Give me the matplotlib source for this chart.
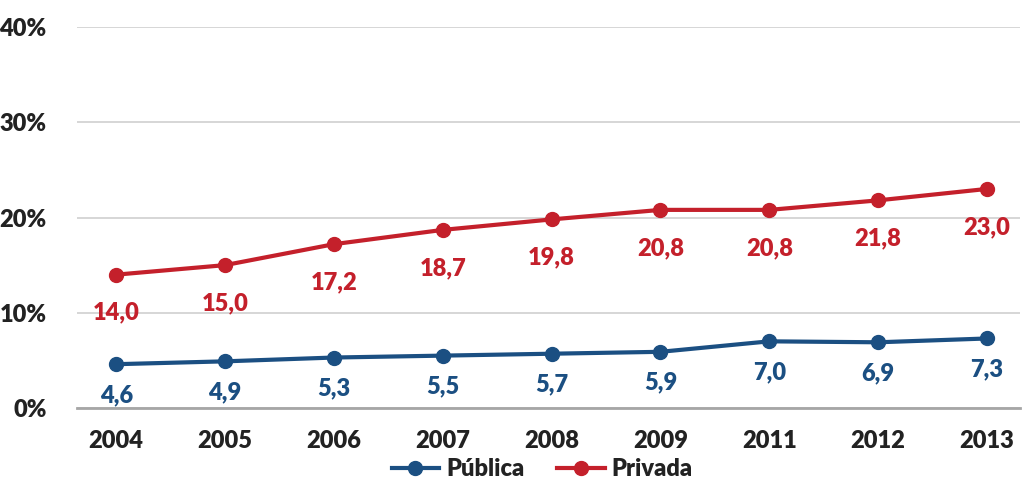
import matplotlib.pyplot as plt

anos = ["2004", "2005", "2006", "2007", "2008", "2009", "2011", "2012", "2013"]
publica = [4.6, 4.9, 5.3, 5.5, 5.7, 5.9, 7.0, 6.9, 7.3]
privada = [14.0, 15.0, 17.2, 18.7, 19.8, 20.8, 20.8, 21.8, 23.0]

azul = "#1b4f82"
vermelho = "#c4202b"
peso = 'heavy'

plt.rcParams['font.family'] = ['Lato', 'DejaVu Sans']

fig = plt.figure(figsize=(10.31, 4.82), dpi=100)
ax = fig.add_axes([0.0747, 0.1535, 0.9143, 0.7905])

x = list(range(len(anos)))
ax.plot(x, publica, color=azul, lw=3, marker='o', ms=10, label="Pública", zorder=3)
ax.plot(x, privada, color=vermelho, lw=3, marker='o', ms=10, label="Privada", zorder=3)

for i in x:
    ax.annotate(f"{publica[i]:.1f}".replace(".", ","), (i, publica[i]), xytext=(0, -31),
                textcoords='offset pixels', ha='center', va='center', color=azul,
                fontsize=17, fontweight=peso)
    ax.annotate(f"{privada[i]:.1f}".replace(".", ","), (i, privada[i]), xytext=(0, -38),
                textcoords='offset pixels', ha='center', va='center', color=vermelho,
                fontsize=17, fontweight=peso)

ax.set_ylim(0, 40)
ax.set_yticks([0, 10, 20, 30, 40])
ax.set_yticklabels(["0%", "10%", "20%", "30%", "40%"])
ax.set_xlim(-0.36, 8.3)
ax.set_xticks(x)
ax.set_xticklabels(anos)
ax.tick_params(axis='both', length=0, labelsize=17, colors="#222222")
ax.tick_params(axis='y', pad=22)
ax.tick_params(axis='x', pad=16)
for lab in ax.get_xticklabels() + ax.get_yticklabels():
    lab.set_fontweight(peso)

ax.grid(axis='y', color="#d0d0d0", lw=1.2)
ax.set_axisbelow(True)
for s in ["top", "right", "left"]:
    ax.spines[s].set_visible(False)
ax.spines["bottom"].set_color("#a6a6a6")
ax.spines["bottom"].set_linewidth(2)

leg = fig.legend(loc='lower center', bbox_to_anchor=(0.526, -0.025), ncol=2, frameon=False,
                 fontsize=17, handlelength=2.0, columnspacing=1.4, handletextpad=0.3,
                 borderpad=0.1)
for t in leg.get_texts():
    t.set_color("#222222")
    t.set_fontweight(peso)

fig.savefig("out.png", dpi=100)
